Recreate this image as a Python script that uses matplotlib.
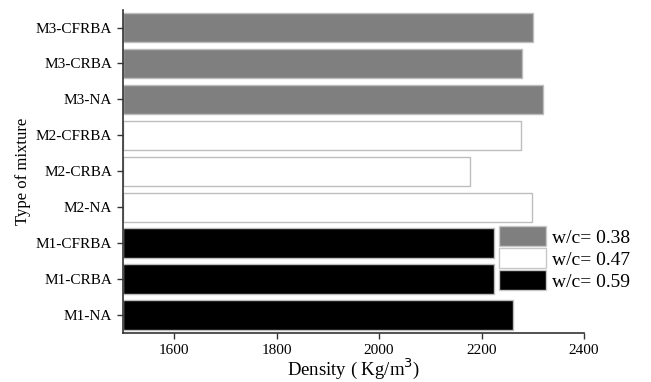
import matplotlib
matplotlib.use("Agg")
import matplotlib.pyplot as plt
from matplotlib.patches import Patch

plt.rcParams['font.family'] = ['Liberation Serif', 'DejaVu Serif']

categories = ["M1-NA", "M1-CRBA", "M1-CFRBA",
              "M2-NA", "M2-CRBA", "M2-CFRBA",
              "M3-NA", "M3-CRBA", "M3-CFRBA"]
density = [2262, 2224, 2225,
           2299, 2178, 2278,
           2321, 2280, 2300]
groups = ["M1", "M1", "M1", "M2", "M2", "M2", "M3", "M3", "M3"]
group_colors = {"M1": "#000000", "M2": "#ffffff", "M3": "#7f7f7f"}
legend_labels = ["w/c= 0.38", "w/c= 0.47", "w/c= 0.59"]
legend_groups = ["M3", "M2", "M1"]

fig = plt.figure(figsize=(6.51, 3.82), dpi=100)
ax = fig.add_axes([0.189, 0.128, 0.708, 0.847])

ypos = list(range(len(categories)))
ax.barh(ypos, [d - 1500 for d in density], left=1500, height=0.82,
        color=[group_colors[g] for g in groups], edgecolor="#bdbdbd", linewidth=1.0)

ax.set_xlim(1500, 2400)
ax.set_ylim(-0.5, 8.5)
ax.set_xticks([1600, 1800, 2000, 2200, 2400])
ax.set_yticks(ypos)
ax.set_yticklabels(categories)
ax.tick_params(axis='both', labelsize=11, direction='out', length=4.5, width=1, color="#333333")
ax.tick_params(axis='x', pad=3)
for s in ["top", "right"]:
    ax.spines[s].set_visible(False)
for s in ["left", "bottom"]:
    ax.spines[s].set_linewidth(1.2)
    ax.spines[s].set_color("#333333")

ax.set_xlabel("Density ( Kg/m$^3$)", fontsize=13.5, labelpad=0)
ax.set_ylabel("Type of mixture", fontsize=12, labelpad=3)

handles = [Patch(facecolor=group_colors[g], edgecolor="#c8c8c8", linewidth=1.0) for g in legend_groups]
ax.legend(handles, legend_labels, loc="upper left", bbox_to_anchor=(0.816, 0.33),
          frameon=False, fontsize=14, handlelength=2.4, handleheight=1.2,
          labelspacing=0.08, handletextpad=0.3, borderpad=0, borderaxespad=0)

fig.savefig("out.png", dpi=100)
